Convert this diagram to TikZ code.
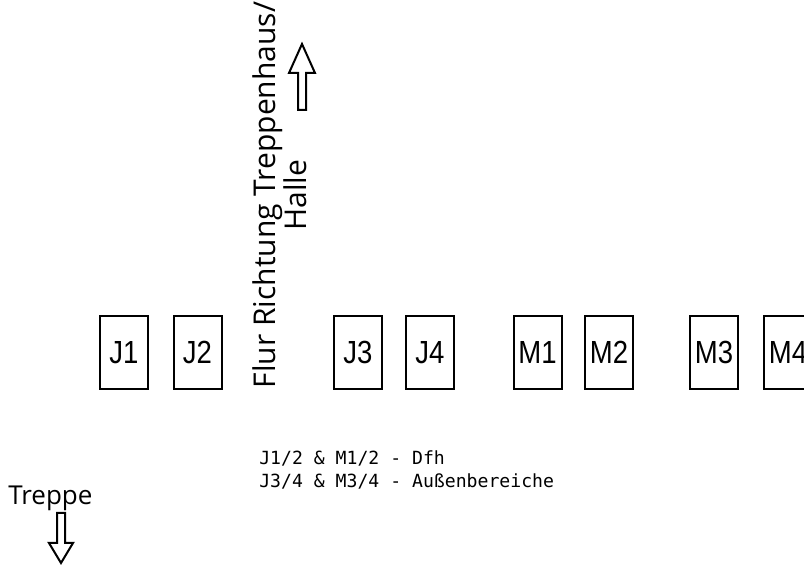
\documentclass[tikz,border=0pt]{standalone}
\usepackage{fontspec}
\setmainfont{Open Sans}
\newfontfamily\tablefont[FakeStretch=0.86]{Liberation Sans}
\newfontfamily\notefont{DejaVu Sans Mono}
\usetikzlibrary{positioning}

\tikzset{
  table/.style={draw, line width=1.5pt, minimum width=36pt, minimum height=54.75pt,
    inner sep=0pt, font=\tablefont\fontsize{24}{26}\selectfont},
  blockarrow/.style={draw, line width=1.5pt, line join=miter, fill=white},
  plain/.style={inner sep=0pt, font=\fontsize{19.5}{22}\selectfont}
}

\begin{document}
\begin{tikzpicture}[x=0.75pt,y=0.75pt,yscale=-1]
	\useasboundingbox (0,0) rectangle (804,566);
	
	%Tische J
	\node[table] (j1) at (124,352.5) {J1};
	\node[table] (j2) at (197.5,352.5) {J2};
	\node[table] (j3) at (358,352.5) {J3};
	\node[table] (j4) at (430,352.5) {J4};
	%Tische M
	\node[table] (m1) at (537.5,352.5) {M1};
	\node[table] (m2) at (609,352.5) {M2};
	\node[table] (m3) at (714,352.5) {M3};
	\node[table] (m4) at (788,352.5) {M4};
	
	% Flur
	\node[inner sep=0pt, rotate=90, align=center, font=\fontsize{22.5}{18}\selectfont] (flur) at (280,195)
		{Flur Richtung Treppenhaus/\\Halle};
	%Pfeil nach oben
	\draw[blockarrow] (298,110) -- (298,73) -- (289,73) -- (302,44) -- (315,73) -- (306,73) -- (306,110) -- cycle;
	
	% Treppe
	\node[plain, anchor=base west] (treppe) at (8,505) {Treppe};
	%Pfeil nach unten
	\draw[blockarrow] (57,513) -- (57,543) -- (49,543) -- (61,563) -- (73,543) -- (65,543) -- (65,513) -- cycle;
	
	% Legende
	\node[inner sep=0pt, anchor=north west, align=left, font=\notefont\fontsize{13.6}{17.25}\selectfont] (legende) at (259,450)
		{J1/2 \& M1/2 - Dfh\\J3/4 \& M3/4 - Außenbereiche};
\end{tikzpicture}
\end{document}
